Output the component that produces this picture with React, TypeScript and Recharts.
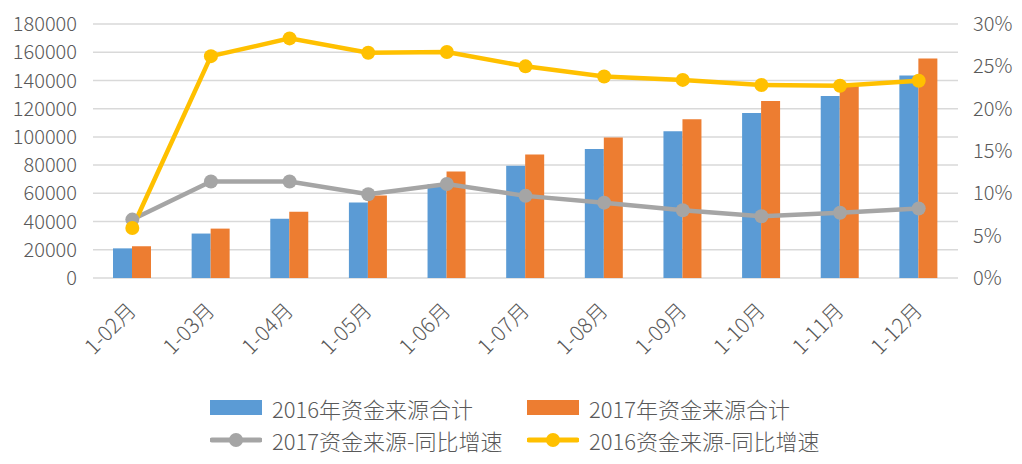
import React from "react";
import {
  ComposedChart,
  CartesianGrid,
  XAxis,
  YAxis,
  Legend,
  Bar,
  Line,
} from "recharts";

const months = ["1-02月", "1-03月", "1-04月", "1-05月", "1-06月", "1-07月", "1-08月", "1-09月", "1-10月", "1-11月", "1-12月"];
const fund2016 = [21000, 31500, 42000, 53500, 66500, 79500, 91500, 104000, 117000, 129000, 143500];
const fund2017 = [22500, 35000, 47000, 58500, 75500, 87500, 99500, 112500, 125500, 136500, 155500];
const growth2017 = [6.9, 11.4, 11.4, 9.9, 11.1, 9.7, 8.9, 8.0, 7.3, 7.7, 8.2];
const growth2016 = [5.9, 26.2, 28.3, 26.6, 26.7, 25.0, 23.8, 23.4, 22.8, 22.7, 23.3];

const leftTicks = [0, 20000, 40000, 60000, 80000, 100000, 120000, 140000, 160000, 180000];
const rightTicks = [0, 5, 10, 15, 20, 25, 30];
const legendOrder = ["f2016", "f2017", "g2017", "g2016"];

const data = months.map((m, i) => ({
  month: m,
  f2016: fund2016[i],
  f2017: fund2017[i],
  g2017: growth2017[i],
  g2016: growth2016[i],
}));

const FONT = "'Noto Sans CJK SC', 'Noto Sans', sans-serif";
const TEXT = "#595959";

const MonthTick = (props: any) => {
  const { x, y, payload } = props;
  const ax = x + 5;
  const ay = y + 34;
  return (
    <text
      x={ax}
      y={ay}
      transform={`rotate(-45, ${ax}, ${ay})`}
      textAnchor="end"
      fontSize={21}
      fontWeight={300}
      fontFamily={FONT}
      fill={TEXT}
    >
      {payload.value}
    </text>
  );
};

const LegendItem = ({ item }: any) => {
  const isLine = item.type === "line";
  return (
    <div style={{ display: "flex", alignItems: "center", height: 32 }}>
      <svg width={52} height={20} style={{ marginRight: 10 }}>
        {isLine ? (
          <>
            <line x1={2} y1={10} x2={50} y2={10} stroke={item.color} strokeWidth={5} strokeLinecap="round" />
            <circle cx={26} cy={10} r={7} fill={item.color} />
          </>
        ) : (
          <rect x={0} y={2} width={52} height={15} fill={item.color} />
        )}
      </svg>
      <span style={{ fontSize: 22, fontWeight: 300, color: TEXT, fontFamily: FONT, whiteSpace: "nowrap" }}>
        {item.value}
      </span>
    </div>
  );
};

const TwoRowLegend = (props: any) => {
  const items = [...(props.payload || [])].sort(
    (a: any, b: any) => legendOrder.indexOf(a.dataKey) - legendOrder.indexOf(b.dataKey)
  );
  const rows = [items.slice(0, 2), items.slice(2, 4)];
  return (
    <div style={{ height: 80, paddingTop: 8, boxSizing: "border-box" }}>
      {rows.map((row: any[], r: number) => (
        <div key={r} style={{ display: "flex", paddingLeft: 210 }}>
          <div style={{ width: 317 }}>{row[0] && <LegendItem item={row[0]} />}</div>
          <div>{row[1] && <LegendItem item={row[1]} />}</div>
        </div>
      ))}
    </div>
  );
};

export default function App() {
  return (
    <div style={{ position: "absolute", left: 0, top: 0, background: "#fff" }}>
      <ComposedChart
        width={1022}
        height={464}
        data={data}
        margin={{ top: 24, right: 0, bottom: 0, left: 0 }}
        barGap={0}
      >
        <CartesianGrid vertical={false} stroke="#d9d9d9" strokeWidth={1.5} yAxisId="left" />
        <XAxis
          dataKey="month"
          axisLine={false}
          tickLine={false}
          tickSize={0}
          tickMargin={0}
          height={106}
          interval={0}
          tick={<MonthTick />}
        />
        <YAxis
          yAxisId="left"
          domain={[0, 180000]}
          ticks={leftTicks}
          width={93}
          axisLine={false}
          tickLine={false}
          tickSize={0}
          tickMargin={16}
          tick={{ fontSize: 20, fontWeight: 300, fill: TEXT, fontFamily: FONT }}
        />
        <YAxis
          yAxisId="right"
          orientation="right"
          domain={[0, 30]}
          ticks={rightTicks}
          width={64}
          axisLine={false}
          tickLine={false}
          tickSize={0}
          tickMargin={15}
          tickFormatter={(v) => `${v}%`}
          tick={{ fontSize: 20, fontWeight: 300, fill: TEXT, fontFamily: FONT }}
        />
        <Legend verticalAlign="bottom" content={<TwoRowLegend />} />
        <Bar yAxisId="left" dataKey="f2016" name="2016年资金来源合计" fill="#5B9BD5" barSize={19} isAnimationActive={false} />
        <Bar yAxisId="left" dataKey="f2017" name="2017年资金来源合计" fill="#ED7D31" barSize={19} isAnimationActive={false} />
        <Line
          yAxisId="right"
          dataKey="g2017"
          name="2017资金来源-同比增速"
          stroke="#A5A5A5"
          strokeWidth={4.5}
          dot={{ r: 7, fill: "#A5A5A5", stroke: "none" }}
          activeDot={false}
          isAnimationActive={false}
        />
        <Line
          yAxisId="right"
          dataKey="g2016"
          name="2016资金来源-同比增速"
          stroke="#FFC000"
          strokeWidth={4.5}
          dot={{ r: 7, fill: "#FFC000", stroke: "none" }}
          activeDot={false}
          isAnimationActive={false}
        />
      </ComposedChart>
    </div>
  );
}
